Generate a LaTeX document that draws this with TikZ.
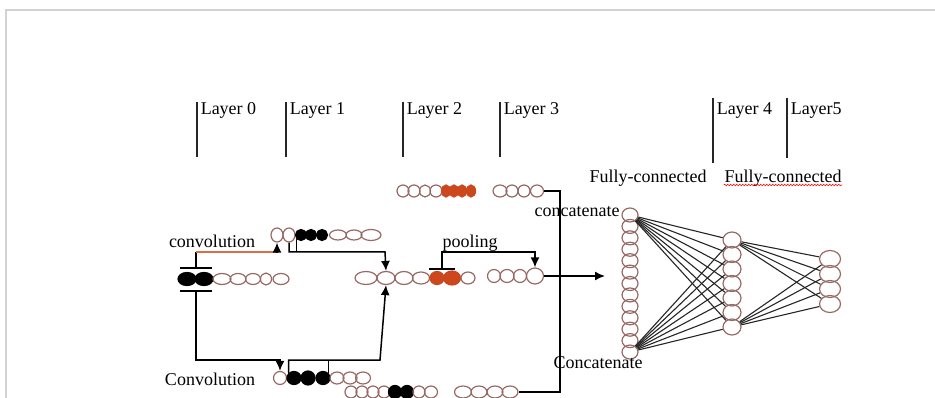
\documentclass[tikz,border=0pt]{standalone}
\usepackage{fontspec}
\setmainfont{Liberation Serif}
\usetikzlibrary{positioning,shapes.geometric,arrows.meta,decorations.pathmorphing}
\definecolor{rim}{RGB}{150,105,100}
\definecolor{rust}{RGB}{204,72,28}
\definecolor{wire}{RGB}{214,112,72}
\tikzset{
  nr/.style={ellipse, draw=rim, line width=1.2pt, inner sep=0pt},
  nb/.style={nr, draw=black, fill=black},
  nd/.style={nr, draw=rust, fill=rust},
  lbl/.style={font=\fontsize{18}{21}\selectfont, inner sep=0pt},
  lay/.style={line width=1.5pt, draw=black!85},
  fc/.style={line width=1.1pt, black!85}
}

\begin{document}
\begin{tikzpicture}[x=1pt, y=-1pt, line width=1.5pt, >={Latex[length=10pt,width=9pt]}]
	\useasboundingbox (0,0) rectangle (935,398);
	\draw[gray!35, line width=1.5pt] (6,398) -- (6,10) -- (935,10);
	% layer marks
	\foreach \x/\t in {197/Layer 0, 286/Layer 1, 403/Layer 2, 500/Layer 3}{
		\draw[lay] (\x,102) -- (\x,157);
		\node[lbl, anchor=base west] at (\x+3,115) {\t};
	}
	\draw[lay] (713,98) -- (713,163);
	\node[lbl, anchor=base west] (l4) at (716,115) {Layer 4};
	\draw[lay] (787,98) -- (787,158);
	\node[lbl, anchor=base west] (l5) at (790,115) {Layer5};
	\node[lbl, anchor=base] (fc1) at (648,183) {Fully-connected};
	\node[lbl, anchor=base] (fc2) at (783,183) {Fully-connected};
	\draw[red, line width=0.6pt, decorate, decoration={snake, amplitude=0.8pt, segment length=3pt}]
		([yshift=-2pt]fc2.base west) -- ([yshift=-2pt]fc2.base east);

	% rows of units
	\foreach \x/\w/\h/\s [count=\i] in {187/18/13/nb, 204/18/13/nb, 222/18/11/nr, 238/16/11/nr, 253/15/11/nr, 266/11/12/nr, 281/16/11/nr}
		\node[\s, minimum width=\w pt, minimum height=\h pt] (a\i) at (\x,279) {};
	\foreach \x/\w/\h/\s [count=\i] in {277/12/14/nr, 289/12/14/nr, 301/11/11/nb, 311/11/11/nb, 322/11/11/nb, 338/17/10/nr, 354/16/10/nr, 371/20/11/nr}
		\node[\s, minimum width=\w pt, minimum height=\h pt] (b\i) at (\x,235) {};
	\foreach \x/\w/\h/\s [count=\i] in {280/13/13/nr, 294/14/13/nb, 308/14/14/nb, 323/14/13/nb, 337/14/12/nr, 350/14/12/nr, 363/15/12/nr}
		\node[\s, minimum width=\w pt, minimum height=\h pt] (c\i) at (\x,378) {};
	\foreach \x/\w/\h/\s [count=\i] in {366/22/13/nr, 386/18/13/nr, 404/18/13/nr, 421/17/12/nr, 437/14/13/nd, 452/17/14/nd, 468/14/12/nr}
		\node[\s, minimum width=\w pt, minimum height=\h pt] (d\i) at (\x,278) {};
	\foreach \x/\w/\h/\s [count=\i] in {403/12/12/nr, 414/12/12/nr, 425/11/12/nr, 436/12/12/nr, 446/9/12/nd, 454/9/12/nd, 462/9/12/nd, 471/9/12/nd}
		\node[\s, minimum width=\w pt, minimum height=\h pt] (e\i) at (\x,191) {};
	\foreach \x/\w/\h/\s [count=\i] in {500/14/12/nr, 512/12/12/nr, 524/12/12/nr, 537/13/12/nr}
		\node[\s, minimum width=\w pt, minimum height=\h pt] (f\i) at (\x,191) {};
	\foreach \x/\w/\h/\s [count=\i] in {494/13/13/nr, 507/14/13/nr, 520/13/13/nr, 535/17/16/nr}
		\node[\s, minimum width=\w pt, minimum height=\h pt] (g\i) at (\x,276) {};
	\foreach \x/\w/\h/\s [count=\i] in {351/12/12/nr, 362/12/12/nr, 373/12/12/nr, 384/12/12/nr, 395/13/13/nb, 407/13/13/nb, 419/12/12/nr, 431/13/12/nr}
		\node[\s, minimum width=\w pt, minimum height=\h pt] (k\i) at (\x,392) {};
	\foreach \x/\w/\h/\s [count=\i] in {463/17/12/nr, 479/16/12/nr, 495/16/12/nr, 510/16/12/nr}
		\node[\s, minimum width=\w pt, minimum height=\h pt] (m\i) at (\x,392) {};

	% fully connected part
	\foreach \i in {1,...,13}
		\node[nr, minimum width=16pt, minimum height=14pt] (p\i) at (630,{215+11.42*(\i-1)}) {};
	\foreach \i in {1,...,7}
		\node[nr, minimum width=18pt, minimum height=16pt] (h\i) at (732,{240+14.5*(\i-1)}) {};
	\foreach \i in {1,...,4}
		\node[nr, minimum width=21pt, minimum height=17pt] (o\i) at (830,{259+15*(\i-1)}) {};
	\foreach \j in {1,...,7}{
		\draw[fc] (p1) -- (h\j);
		\draw[fc] (p13) -- (h\j);
	}
	\foreach \j in {1,...,4}{
		\draw[fc] (h1) -- (o\j);
		\draw[fc] (h7) -- (o\j);
	}

	% labels
	\node[lbl, anchor=base] (conv1) at (212,248) {convolution};
	\node[lbl, anchor=base] (conv2) at (210,385) {Convolution};
	\node[lbl, anchor=base] (pool) at (470,248) {pooling};
	\node[lbl, anchor=base] (cat1) at (577,217) {concatenate};
	\node[lbl, anchor=base] (cat2) at (598,368) {Concatenate};

	% convolution brackets
	\coordinate (q0) at (196,252);
	\coordinate (q1) at (196,360);
	\coordinate (kb) at (385,252);
	\coordinate (kc) at (380,360);
	\coordinate (kp) at (442,252);
	\coordinate (fin) at (605,276);
	\draw (180,268) -- (212,268);
	\draw (180,291) -- (212,291);
	\draw (196,268) -- (q0);
	\draw[wire] (q0) -- (b1.south |- q0);
	\draw[->] (b1.south |- q0) -- (b1.south);
	\draw[->] (196,291) -- (q1) -| (c1.north);
	\draw[->] (b2.south) |- (kb) -- (d2.north);
	\draw (b3.south west) -- (b3.south west |- kb);
	\draw[->] (c2.north west) |- (kc) -- (d2.south);
	\draw (c4.north east) -- (c4.north east |- kc);

	% pooling
	\draw (429,269) -- (455,269);
	\draw[->] (442,269) -- (kp) -| (g4.north);
	\draw[->] (g4.east) -- (fin);

	% concatenate
	\draw (f4.east) -- ++(16,0) |- (m4.east);
\end{tikzpicture}
\end{document}
